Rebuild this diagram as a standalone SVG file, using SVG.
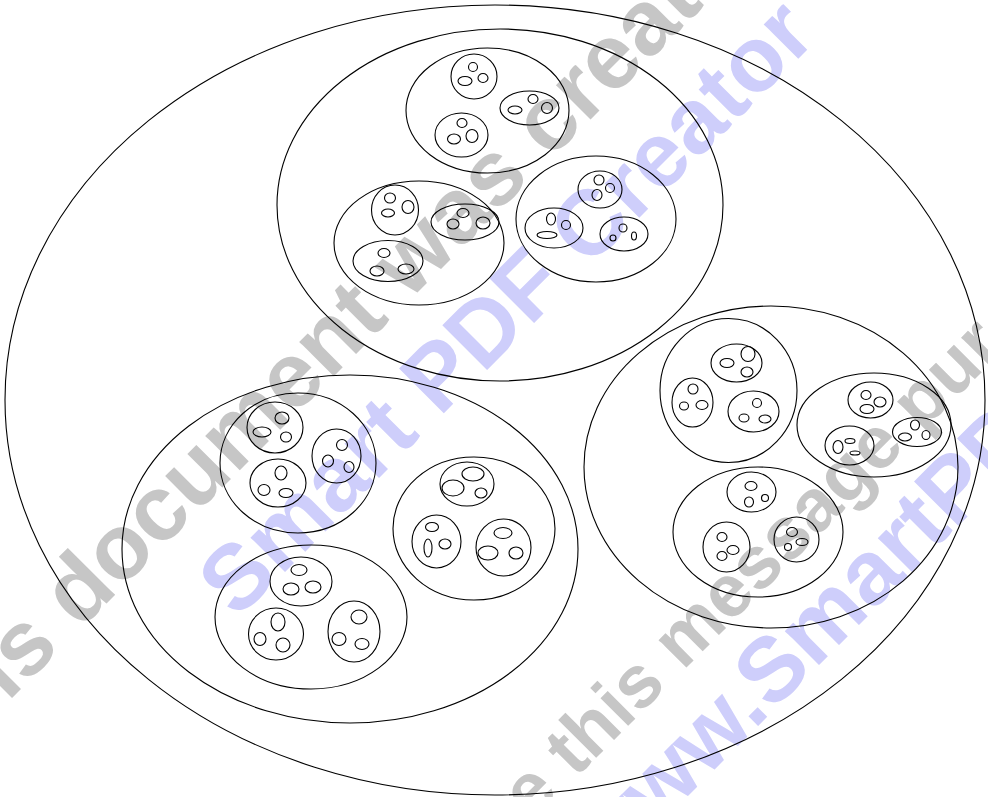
<svg xmlns="http://www.w3.org/2000/svg" width="988" height="797" viewBox="0 0 988 797">
<style>
.e{fill:none;stroke:#000;stroke-width:1.1}
.wm{font-family:"Liberation Sans",Arial,sans-serif;font-weight:bold}
.g{fill:#c6c6c6}
.b{fill:#ceceFb}
</style>
<rect width="988" height="797" fill="#fff"/>
<g id="watermark">
<text class="wm g" font-size="92" transform="translate(7.5,702.5) rotate(-45)">is document was creat</text>
<text class="wm b" font-size="92" transform="translate(237,620) rotate(-45)">Smart PDF Creator</text>
<text class="wm g" font-size="74" transform="translate(531.5,822.5) rotate(-45)">e this message pur</text>
<text class="wm b" font-size="91" transform="translate(606,878) rotate(-45)">www.SmartPDF</text>
</g>
<g id="outer"><ellipse class="e" cx="495" cy="400" rx="490" ry="395"/></g>

<g id="cluster-top">
<ellipse class="e" cx="500" cy="205" rx="223" ry="176"/>
<g id="top-a">
<ellipse class="e" cx="487.5" cy="110.5" rx="81.5" ry="62.5"/>
<ellipse class="e" cx="474" cy="76.5" rx="23" ry="22.5"/>
<ellipse class="e" cx="473" cy="67" rx="4.5" ry="4.5"/><ellipse class="e" cx="465" cy="81" rx="7" ry="4.5"/><ellipse class="e" cx="483" cy="78" rx="5" ry="4.5"/>
<ellipse class="e" cx="529.5" cy="108" rx="29.5" ry="17"/>
<ellipse class="e" cx="515" cy="110" rx="7" ry="4"/><ellipse class="e" cx="533" cy="99" rx="5" ry="4.5"/><ellipse class="e" cx="547" cy="108" rx="5.5" ry="5.5"/>
<ellipse class="e" cx="461.5" cy="135" rx="26.5" ry="22"/>
<ellipse class="e" cx="462" cy="123" rx="5" ry="4.5"/><ellipse class="e" cx="454" cy="139" rx="6.5" ry="5"/><ellipse class="e" cx="472" cy="136" rx="6" ry="6.5"/>
</g>
<g id="top-b">
<ellipse class="e" cx="419" cy="243" rx="85" ry="62"/>
<ellipse class="e" cx="395" cy="210" rx="23.5" ry="25"/>
<ellipse class="e" cx="390" cy="198" rx="5.5" ry="5"/><ellipse class="e" cx="408" cy="207" rx="6" ry="6.5"/><ellipse class="e" cx="388" cy="213" rx="6.5" ry="4"/>
<ellipse class="e" cx="465" cy="222" rx="34" ry="18"/>
<ellipse class="e" cx="463" cy="213" rx="6" ry="4.5"/><ellipse class="e" cx="453" cy="224" rx="6" ry="5"/><ellipse class="e" cx="483" cy="223" rx="7" ry="6"/>
<ellipse class="e" cx="388" cy="261" rx="35" ry="20.5"/>
<ellipse class="e" cx="384" cy="253" rx="6" ry="4.5"/><ellipse class="e" cx="377" cy="271" rx="7" ry="5"/><ellipse class="e" cx="406" cy="269" rx="8" ry="5"/>
</g>
<g id="top-c">
<ellipse class="e" cx="596" cy="219" rx="80" ry="63"/>
<ellipse class="e" cx="600" cy="189.5" rx="22" ry="18.5"/>
<ellipse class="e" cx="599" cy="180" rx="5" ry="5"/><ellipse class="e" cx="610" cy="188" rx="4.5" ry="4.5"/><ellipse class="e" cx="597" cy="195" rx="5" ry="5.5"/>
<ellipse class="e" cx="554" cy="228" rx="29" ry="20"/>
<ellipse class="e" cx="551" cy="219" rx="4.5" ry="6"/><ellipse class="e" cx="566" cy="225" rx="4.5" ry="4.5"/><ellipse class="e" cx="547" cy="235" rx="10" ry="3.5"/>
<ellipse class="e" cx="624" cy="234" rx="24" ry="17"/>
<ellipse class="e" cx="623" cy="228" rx="4" ry="4"/><ellipse class="e" cx="634" cy="236" rx="2.5" ry="4"/><ellipse class="e" cx="613" cy="238" rx="3" ry="3"/>
</g>
</g>

<g id="cluster-left">
<ellipse class="e" cx="350" cy="549" rx="228" ry="174"/>
<g id="left-a">
<ellipse class="e" cx="298" cy="463" rx="78" ry="70"/>
<ellipse class="e" cx="275" cy="427.5" rx="28" ry="25.5"/>
<ellipse class="e" cx="282" cy="418" rx="7" ry="6"/><ellipse class="e" cx="262" cy="432" rx="9" ry="5"/><ellipse class="e" cx="286" cy="437" rx="5.5" ry="5"/>
<ellipse class="e" cx="336.5" cy="456" rx="24.5" ry="27"/>
<ellipse class="e" cx="342" cy="445" rx="5.5" ry="5.5"/><ellipse class="e" cx="328" cy="461" rx="5.5" ry="6"/><ellipse class="e" cx="349" cy="467" rx="5" ry="5.5"/>
<ellipse class="e" cx="278" cy="483" rx="28" ry="24"/>
<ellipse class="e" cx="281" cy="473" rx="6" ry="7"/><ellipse class="e" cx="264" cy="490" rx="6" ry="5.5"/><ellipse class="e" cx="286" cy="493" rx="7" ry="4.5"/>
</g>
<g id="left-b">
<ellipse class="e" cx="474" cy="528.5" rx="81" ry="71.5"/>
<ellipse class="e" cx="467" cy="484" rx="27" ry="22"/>
<ellipse class="e" cx="453" cy="488" rx="11" ry="8"/><ellipse class="e" cx="473" cy="474" rx="11" ry="7"/><ellipse class="e" cx="481" cy="493" rx="6" ry="5"/>
<ellipse class="e" cx="436.5" cy="541.5" rx="24.5" ry="26.5"/>
<ellipse class="e" cx="432" cy="527" rx="6.5" ry="4.5"/><ellipse class="e" cx="428" cy="548" rx="4" ry="9"/><ellipse class="e" cx="445" cy="544" rx="6" ry="5"/>
<ellipse class="e" cx="503.5" cy="547.5" rx="27.5" ry="28.5"/>
<ellipse class="e" cx="503" cy="533" rx="9" ry="5.5"/><ellipse class="e" cx="488" cy="553" rx="10" ry="7"/><ellipse class="e" cx="516" cy="553" rx="7" ry="6"/>
</g>
<g id="left-c">
<ellipse class="e" cx="311" cy="617" rx="96" ry="72"/>
<ellipse class="e" cx="301" cy="581.5" rx="31" ry="24.5"/>
<ellipse class="e" cx="299" cy="570" rx="8" ry="5.5"/><ellipse class="e" cx="291" cy="589" rx="8" ry="6"/><ellipse class="e" cx="313" cy="587" rx="8" ry="6"/>
<ellipse class="e" cx="276" cy="634" rx="27.5" ry="26"/>
<ellipse class="e" cx="278" cy="622" rx="7" ry="9"/><ellipse class="e" cx="260" cy="639" rx="6" ry="6.5"/><ellipse class="e" cx="283" cy="645" rx="7" ry="7"/>
<ellipse class="e" cx="354" cy="631.5" rx="26" ry="30.5"/>
<ellipse class="e" cx="359" cy="617" rx="8" ry="7"/><ellipse class="e" cx="339" cy="639" rx="7" ry="6.5"/><ellipse class="e" cx="362" cy="644" rx="7" ry="5.5"/>
</g>
</g>

<g id="cluster-right">
<ellipse class="e" cx="771" cy="467" rx="187" ry="161"/>
<g id="right-a">
<ellipse class="e" cx="728.5" cy="390.5" rx="68.5" ry="72"/>
<ellipse class="e" cx="736.5" cy="363" rx="25.5" ry="19"/>
<ellipse class="e" cx="727" cy="363" rx="7" ry="4.5"/><ellipse class="e" cx="748" cy="354" rx="7" ry="7.5"/><ellipse class="e" cx="747" cy="372" rx="6" ry="5"/>
<ellipse class="e" cx="692.5" cy="402.5" rx="20.5" ry="24.5"/>
<ellipse class="e" cx="693" cy="389" rx="5" ry="5"/><ellipse class="e" cx="684" cy="406" rx="4.5" ry="4"/><ellipse class="e" cx="702" cy="405" rx="6" ry="4.5"/>
<ellipse class="e" cx="753.5" cy="411.5" rx="25.5" ry="20.5"/>
<ellipse class="e" cx="757" cy="403" rx="4.5" ry="4.5"/><ellipse class="e" cx="744" cy="418" rx="5" ry="4"/><ellipse class="e" cx="765" cy="419" rx="6" ry="4"/>
</g>
<g id="right-b">
<ellipse class="e" cx="874" cy="425" rx="77" ry="52"/>
<ellipse class="e" cx="870.5" cy="400" rx="22.5" ry="18"/>
<ellipse class="e" cx="866" cy="395" rx="5" ry="4.5"/><ellipse class="e" cx="880" cy="402" rx="6" ry="5"/><ellipse class="e" cx="867" cy="409" rx="7" ry="4.5"/>
<ellipse class="e" cx="849.5" cy="445.5" rx="24.5" ry="19.5"/>
<ellipse class="e" cx="838" cy="447" rx="5" ry="6.5"/><ellipse class="e" cx="850" cy="441" rx="5" ry="2.5"/><ellipse class="e" cx="855" cy="453" rx="5" ry="2"/>
<ellipse class="e" cx="917" cy="432" rx="24.5" ry="14.5"/>
<ellipse class="e" cx="915" cy="425" rx="4.5" ry="5"/><ellipse class="e" cx="905" cy="437" rx="6.5" ry="4"/><ellipse class="e" cx="926" cy="435" rx="4" ry="4.5"/>
</g>
<g id="right-c">
<ellipse class="e" cx="758" cy="532" rx="85" ry="65"/>
<ellipse class="e" cx="751.5" cy="492" rx="24.5" ry="20"/>
<ellipse class="e" cx="751" cy="486" rx="6" ry="4.5"/><ellipse class="e" cx="749" cy="502" rx="4.5" ry="5"/><ellipse class="e" cx="765" cy="498" rx="3.5" ry="3.5"/>
<ellipse class="e" cx="726.5" cy="547" rx="23.5" ry="25"/>
<ellipse class="e" cx="722" cy="537" rx="5" ry="4.5"/><ellipse class="e" cx="722" cy="556" rx="5" ry="4.5"/><ellipse class="e" cx="733" cy="550" rx="6" ry="4.5"/>
<ellipse class="e" cx="796.5" cy="539.5" rx="22.5" ry="22.5"/>
<ellipse class="e" cx="792" cy="532" rx="5.5" ry="4.5"/><ellipse class="e" cx="802" cy="542" rx="6" ry="3.5"/><ellipse class="e" cx="788" cy="547" rx="3.5" ry="3.5"/>
</g>
</g>
</svg>
